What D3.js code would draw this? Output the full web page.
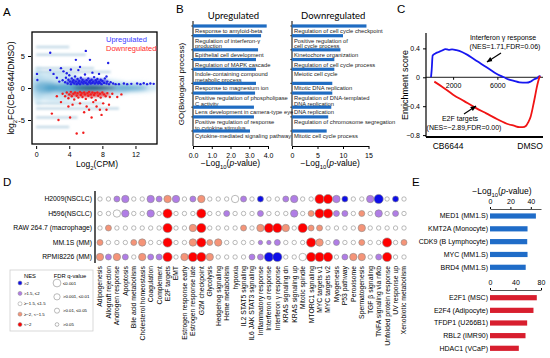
<!DOCTYPE html>
<html><head><meta charset="utf-8">
<script src="https://cdn.jsdelivr.net/npm/d3@7"></script>
<style>
body{margin:0;background:#fff}
svg{font-family:"Liberation Sans",Arial,sans-serif;display:block}
</style></head><body>
<svg id="fig" width="550" height="358"></svg>
<script>
// ---------- A: MA plot ----------
// smoothed density of all genes: [log2CPM, log2FC, sdX, sdY, weight]
var maCloudLight = [[2.5,0.2,3.6,2.4,0.6],[7,0,4.6,1.5,0.6],[12,0.1,3,0.8,0.55],[0.2,0.3,0.7,2.9,0.5]];
var maCloudMid = [[5,0,4.2,0.8,0.75],[10.5,0,3,0.5,0.65],[1.2,0.1,1.4,1.0,0.55]];
var maCloudCore = [[7,0,2.6,0.34,0.9],[7.2,0,1.4,0.22,0.95]];
var upDensity = [[6.2,1.0,2.6,0.5,0.7]];
var downDensity = [[6.3,-1.0,2.6,0.42,0.7]];
var maStreaks = [[0,7,3.1],[0,6,5.2],[0,10,-3.2],[0,5,-4.6],[0,4,6.4],[0,4,-6.1],[0,9,2.5],[0,8,-2.4]];
var upGenes = [[3.2,1.2],[3.5,0.9],[3.6,1.6],[3.8,0.7],[3.9,1.3],[4.0,2.0],[4.1,1.0],[4.2,0.6],[4.3,1.5],[4.4,0.9],[4.5,1.2],[4.6,0.7],[4.7,1.8],[4.8,1.0],[4.9,0.6],[5.0,1.4],[5.1,0.8],[5.2,1.1],[5.3,0.6],[5.4,1.6],[5.5,0.9],[5.6,1.3],[5.7,0.7],[5.8,1.0],[5.9,2.1],[6.0,0.8],[6.1,1.2],[6.2,0.6],[6.3,1.5],[6.4,0.9],[6.5,1.1],[6.6,0.7],[6.7,1.3],[6.8,0.8],[6.9,1.0],[7.0,1.7],[7.1,0.7],[7.2,1.2],[7.3,0.9],[7.4,1.4],[7.5,0.7],[7.6,1.0],[7.7,0.8],[7.8,1.3],[7.9,0.6],[8.0,1.1],[8.2,0.8],[8.3,1.5],[8.5,0.7],[8.6,1.0],[8.8,0.6],[9.0,0.9],[9.3,0.7],[9.6,0.6],[10.0,0.6],[10.6,0.7],[11.0,0.6],[11.5,0.65],[12.2,0.7],[12.6,0.6],[13.0,0.75],[13.4,0.6],[13.8,0.7],[14.2,0.65],
  [1.7,5.5],[6.0,5.8],[4.8,4.4],[6.5,4.4],[8.7,3.9],[0.1,2.2],[0.15,1.25],[1.7,2.8],[2.1,2.2],[3.0,3.1],[3.7,2.3],[5.1,2.8],[5.3,3.3],[8.5,1.8],[2.5,1.6],[2.8,1.0],[3.3,2.6],[6.8,2.4],[7.6,2.2],[4.2,2.9]];
var downGenes = [[3.2,-0.9],[3.5,-1.3],[3.7,-0.7],[3.9,-1.6],[4.0,-1.0],[4.2,-0.6],[4.3,-1.3],[4.5,-0.9],[4.6,-1.8],[4.7,-0.7],[4.9,-1.2],[5.0,-0.8],[5.1,-1.5],[5.3,-0.6],[5.4,-1.1],[5.5,-0.8],[5.6,-1.4],[5.8,-0.7],[5.9,-1.0],[6.0,-1.7],[6.2,-0.8],[6.3,-1.2],[6.4,-0.6],[6.6,-1.0],[6.7,-1.5],[6.8,-0.7],[7.0,-1.1],[7.1,-0.8],[7.2,-1.9],[7.4,-0.7],[7.5,-1.2],[7.7,-0.9],[7.8,-1.5],[8.0,-0.7],[8.2,-1.0],[8.4,-1.3],[8.6,-0.8],[8.9,-1.4],[9.2,-0.9],[9.8,-1.4],[10.3,-1.0],
  [1.9,-4.0],[3.9,-2.9],[4.1,-4.6],[5.3,-2.4],[6.1,-2.9],[6.4,-3.4],[6.7,-4.6],[7.3,-2.9],[7.7,-3.4],[8.1,-2.4],[8.5,-3.4],[7.9,-4.2],[4.9,-7.1],[5.7,-7.0],[2.7,-5.0],[3.0,-2.2],[4.4,-2.6],[5.8,-3.8],[6.9,-2.2],[8.8,-2.6],[2.5,-1.3]];
var maXTicks = [0,4,8,12];
var maYTicks = [-5,0,5];

// ---------- B: GO bars ----------
var upTerms = ["Response to amyloid-beta","Regulation of interferon-γ\nproduction","Epithelial cell development","Regulation of MAPK cascade","Indole-containing compound\nmetabolic process","Response to magnesium ion","Positive regulation of phospholipase\nC activity","Lens development in camera-type eye","Positive regulation of response\nto cytokine stimulus","Cytokine-mediated signaling pathway"];
var upP = [3.93,3.63,3.47,3.36,3.36,3.36,3.31,3.25,3.25,3.04];
var downTerms = ["Regulation of cell cycle checkpoint","Positive regulation of\ncell cycle process","Kinetochore organization","Regulation of cell cycle process","Meiotic cell cycle","Mitotic DNA replication","Regulation of DNA-templated\nDNA replication","DNA replication","Regulation of chromosome segregation","Mitotic cell cycle process"];
var downP = [14.6,10.0,9.5,8.3,8.3,7.9,7.9,7.7,7.1,6.8];
var upTicks = [0,1,2,3,4];
var downTicks = [0,5,10,15];

// ---------- C: GSEA running enrichment ----------
var ifngES = [[0,0],[60,0.1],[150,0.3],[400,0.33],[700,0.35],[1000,0.37],[1300,0.39],[1600,0.38],[1900,0.385],[2300,0.375],[2800,0.35],[3300,0.31],[3800,0.26],[4300,0.21],[4800,0.16],[5300,0.11],[5800,0.06],[6300,0.02],[6600,0],[7000,-0.03],[7500,-0.05],[8000,-0.07],[8600,-0.075],[9000,-0.06],[9300,-0.03],[9600,-0.01],[9750,0.01],[9900,0.02]];
var e2fES = [[300,-0.06],[1000,-0.13],[2000,-0.24],[3000,-0.33],[4000,-0.42],[5000,-0.5],[6000,-0.58],[7000,-0.65],[7500,-0.67],[8000,-0.69],[8300,-0.69],[8600,-0.67],[8800,-0.62],[9000,-0.55],[9200,-0.42],[9400,-0.27],[9550,-0.15],[9700,-0.05],[9850,0.02]];
var gseaYTicks = [0.4,0,-0.4,-0.8];
var gseaXTicks = [2000,6000];

// ---------- D: hallmark dot matrix ----------
var cellLines = ["H2009(NSCLC)","H596(NSCLC)","RAW 264.7 (macrophage)","MM.1S (MM)","RPMI8226 (MM)"];
var hallmarks = ["Adipogenesis","Allograft rejection","Androgen response","Apoptosis","Bile acid metabolism","Cholesterol homeostasis","Coagulation","Complement","E2F targets","EMT","Estrogen response early","Estrogen response late","G2M checkpoint","Glycolysis","Hedgehog signaling","Heme metabolism","hypoxia","IL2 STAT5 signaling","IL6 JAK STAT3 signaling","Inflammatory response","Interferon α response","Interferon γ response","KRAS signaling dn","KRAS signaling up","Mitotic spindle","MTORC1 signaling","MYC targets v1","MYC targets v2","Myogenesis","P53 pathway","Peroxisome","Spermatogenesis","TGF β signaling","TNFA signaling via nfkb","Unfolded protein response","UV response up","Xenobiotic metabolism"];
var nes = [
  [0.6,0.4,1.7,1.8,0.3,0.5,1.8,1.7,-1.8,1.8,0.4,1.7,-1.8,0.2,-0.3,0.1,1.2,1.6,0.5,2.1,0.8,0.9,1.6,1.9,0.3,-0.5,-2.3,-2.2,1.9,2.1,0.4,-0.6,1.8,2.3,0.7,2.1,0.2],
  [0.3,0.5,1.3,1.8,0.4,0.2,1.8,0.6,-2.5,-0.4,0.3,-0.8,-2.6,0.2,0.4,1.6,0.3,0.5,0.8,1.6,1.0,0.9,0.6,1.8,-0.5,-1.7,-2.6,-2.5,1.6,1.6,0.3,-1.7,0.5,1.8,-0.9,1.6,0.2],
  [0.2,-1.7,0.3,-0.5,0.4,0.6,-0.3,0.2,-2.4,0.5,-0.6,-1.8,-2.5,0.3,0.1,0.4,-0.8,-1.7,0.2,-1.8,-2.3,-2.4,-1.8,0.3,-2.2,-1.7,-1.8,-0.9,0.4,0.2,0.3,-1.7,0.5,0.3,-0.4,0.6,0.2],
  [-1.7,0.3,0.2,0.4,-1.7,-1.8,0.3,0.5,-2.5,0.2,-0.8,-1.9,-2.5,-1.7,-1.8,0.3,0.4,0.2,0.5,1.6,1.6,1.7,0.4,0.3,0.6,-2.3,-1.8,-0.5,1.6,0.4,0.3,-1.7,0.2,0.4,-2.2,0.3,-1.7],
  [-1.8,1.7,-1.9,1.7,0.3,-1.8,1.6,1.7,-2.6,0.4,-1.9,-2.3,-2.5,-1.8,0.2,0.3,0.5,0.4,1.7,1.6,2.4,2.4,0.3,0.2,-1.2,-2.5,-2.6,-2.5,0.4,1.6,-1.8,-1.9,0.3,1.7,-2.4,0.4,0.6]];
var fdr = [
  [0.3,0.4,0.03,0.005,0.5,0.3,0.005,0.03,0.005,0.005,0.4,0.03,0.005,0.6,0.5,0.7,0.005,0.03,0.3,0.03,0.2,0.2,0.03,0.005,0.5,0.3,0.0005,0.0005,0.005,0.03,0.4,0.3,0.005,0.0005,0.2,0.03,0.6],
  [0.4,0.3,0.005,0.005,0.4,0.5,0.005,0.3,0.0005,0.4,0.5,0.2,0.0005,0.5,0.4,0.03,0.5,0.3,0.2,0.03,0.15,0.2,0.3,0.005,0.3,0.03,0.0005,0.0005,0.03,0.03,0.4,0.03,0.3,0.005,0.2,0.03,0.5],
  [0.4,0.03,0.5,0.3,0.4,0.3,0.5,0.4,0.0005,0.3,0.3,0.005,0.0005,0.4,0.6,0.5,0.3,0.03,0.4,0.005,0.0005,0.0005,0.005,0.4,0.0005,0.03,0.03,0.2,0.4,0.5,0.4,0.005,0.3,0.4,0.3,0.5,0.4],
  [0.03,0.4,0.5,0.3,0.03,0.005,0.4,0.3,0.0005,0.5,0.2,0.005,0.0005,0.03,0.005,0.4,0.3,0.5,0.4,0.2,0.2,0.03,0.3,0.4,0.3,0.0005,0.005,0.2,0.03,0.4,0.3,0.03,0.5,0.3,0.0005,0.4,0.03],
  [0.005,0.03,0.005,0.03,0.4,0.005,0.03,0.03,0.0005,0.3,0.005,0.0005,0.0005,0.005,0.4,0.5,0.3,0.4,0.03,0.03,0.0005,0.0005,0.4,0.3,0.005,0.0005,0.0005,0.0005,0.3,0.03,0.005,0.005,0.4,0.03,0.0005,0.5,0.4]];
var nesLegend = [">2",">1.5, ≤2","≥−1.5, ≤1.5","≥−2, <−1.5","<−2"];
var nesLegendVal = [2.5,1.7,0,-1.7,-2.5];
var fdrLegend = ["≤0.001",">0.001, ≤0.01",">0.01, ≤0.05",">0.05"];
var fdrLegendVal = [0.0005,0.005,0.03,0.2];

// ---------- E: ChIP enrichment ----------
var coactFactors = ["MED1 (MM1.S)","KMT2A (Monocyte)","CDK9 (B Lymphocyte)","MYC (MM1.S)","BRD4 (MM1.S)"];
var coactP = [45,36.8,36.5,36.8,35];
var e2fFactors = ["E2F1 (MSC)","E2F4 (Adipocyte)","TFDP1 (U266B1)","RBL2 (IMR90)","HDAC1 (VCaP)"];
var e2fP = [73.4,68.2,58.3,55.7,45.2];

var svg = d3.select('#fig');
var defs = svg.append('defs');
function addBlur(id, sd){
	defs.append('filter').attr('id',id).attr('x','-50%').attr('y','-50%').attr('width','200%').attr('height','200%')
		.append('feGaussianBlur').attr('stdDeviation',sd);
}
addBlur('blur2', 2);
addBlur('blur1', 1.2);
defs.append('clipPath').attr('id','clipA').append('rect').attr('x',33).attr('y',33).attr('width',123).attr('height',110);
defs.append('marker').attr('id','arrow').attr('viewBox','0 0 10 10').attr('refX',9).attr('refY',5)
	.attr('markerWidth',5).attr('markerHeight',5).attr('orient','auto')
	.append('path').attr('d','M0,1 L10,5 L0,9 z').attr('fill','#000');

// helper: text with subscript / italic pieces
function richText(sel, parts){
	parts.forEach(function(p){
		var t = sel.append('tspan').text(p[0]);
		if (p[1] == 'sub') t.attr('baseline-shift','sub').attr('font-size','70%');
		if (p[1] == 'it') t.attr('font-style','italic');
	});
	return sel;
}
function panelLetter(txt, x, y){
	svg.append('text').attr('x',x).attr('y',y).attr('font-size',11.5).text(txt);
}

// ================= A =================
panelLetter('A', 3, 16);
var xA = d3.scaleLinear().domain([-0.5,14.6]).range([32,157]);
var yA = d3.scaleLinear().domain([-8.75,8.75]).range([144,32]);
var gA = svg.append('g');
var cloud = gA.append('g').attr('clip-path','url(#clipA)');
var streakG = cloud.append('g').attr('filter','url(#blur1)');
maStreaks.forEach(function(s){
	streakG.append('line').attr('x1',xA(s[0])).attr('x2',xA(s[1])).attr('y1',yA(s[2])).attr('y2',yA(s[2]))
		.attr('stroke','#bcd5e4').attr('stroke-width',2.4).attr('opacity',0.85);
});
function drawDensity(parent, list, color){
	list.forEach(function(c){
		parent.append('ellipse').attr('cx',xA(c[0])).attr('cy',yA(c[1]))
			.attr('rx',xA(c[0]+c[2])-xA(c[0])).attr('ry',yA(c[1])-yA(c[1]+c[3]))
			.attr('fill',color).attr('opacity',c[4]);
	});
}
var blurG = cloud.append('g').attr('filter','url(#blur2)');
drawDensity(blurG, maCloudLight,'#a6d4ea');
drawDensity(blurG, maCloudMid,'#3f98c4');
drawDensity(blurG, maCloudCore,'#0f3e5d');
var clusterG = cloud.append('g').attr('filter','url(#blur1)');
drawDensity(clusterG, upDensity, '#2525e8');
drawDensity(clusterG, downDensity, '#f41e1e');
cloud.selectAll('.up').data(upGenes).enter().append('circle')
	.attr('cx',d=>xA(d[0])).attr('cy',d=>yA(d[1])).attr('r',1.2).attr('fill','#2121e6');
cloud.selectAll('.dn').data(downGenes).enter().append('circle')
	.attr('cx',d=>xA(d[0])).attr('cy',d=>yA(d[1])).attr('r',1.2).attr('fill','#f21d1d');
gA.append('rect').attr('x',32).attr('y',32).attr('width',125).attr('height',112)
	.attr('fill','none').attr('stroke','#000').attr('stroke-width',1.3);
gA.append('g').attr('transform','translate(0,146)')
	.call(d3.axisBottom(xA).tickValues(maXTicks).tickSize(3).tickFormat(d3.format('d')))
	.call(g=>{g.select('.domain').remove(); g.selectAll('text').attr('font-size',7).attr('font-family',null);});
gA.append('g').attr('transform','translate(31,0)')
	.call(d3.axisLeft(yA).tickValues(maYTicks).tickSize(3).tickFormat(d=>d<0?'-'+Math.abs(d):d))
	.call(g=>{g.select('.domain').remove(); g.selectAll('text').attr('font-size',7.5).attr('font-family',null);});
richText(gA.append('text').attr('x',97).attr('y',167).attr('text-anchor','middle').attr('font-size',8.5),
	[['Log',''],['2','sub'],['(CPM)','']]);
richText(gA.append('text').attr('transform','translate(14,88) rotate(-90)').attr('text-anchor','middle').attr('font-size',8.5),
	[['log',''],['2','sub'],['FC(CB-6644/DMSO)','']]);
gA.append('text').attr('x',106).attr('y',42).attr('font-size',7.5).attr('fill','#3b3bff').text('Upregulated');
gA.append('text').attr('x',106).attr('y',51).attr('font-size',7.5).attr('fill','#ff2a2a').text('Downregulated');

// ================= B =================
panelLetter('B', 176, 13);
// rows with two-line labels take more room
var rowLines = upTerms.map((t,i)=>Math.max(t.split('\n').length, downTerms[i].split('\n').length));
var rowPos = [0];
rowLines.slice(0,-1).forEach(function(n,i){ rowPos.push(rowPos[i] + (n>1?1.45:1)); });
var yB = d3.scaleLinear().domain([0, rowPos[rowPos.length-1]]).range([26,131]);
function goPanel(x0, x1, domainMax, ticks, terms, vals, title){
	var x = d3.scaleLinear().domain([0,domainMax]).range([x0,x1]);
	var g = svg.append('g');
	g.append('text').attr('x',(x0+x1)/2+3).attr('y',19).attr('text-anchor','middle')
		.attr('font-size',9.5).attr('font-family','Lato, "Open Sans", sans-serif').text(title);
	g.append('line').attr('x1',x0).attr('x2',x0).attr('y1',21).attr('y2',146).attr('stroke','#000').attr('stroke-width',1);
	g.append('g').attr('transform','translate(0,146)')
		.call(d3.axisBottom(x).tickValues(ticks).tickSize(3).tickSizeOuter(0))
		.call(g=>g.selectAll('text').attr('font-size',7).attr('font-family',null).attr('dy','0.9em'));
	terms.forEach(function(t,i){
		var y = yB(rowPos[i]);
		g.append('rect').attr('x',x0).attr('y',y-1.6).attr('width',x(vals[i])-x0).attr('height',3.2).attr('fill','#1f6cc2');
		g.append('line').attr('x1',x0-2).attr('x2',x0).attr('y1',y).attr('y2',y).attr('stroke','#000').attr('stroke-width',0.6);
		var tx = g.append('text').attr('x',x0+2).attr('y',y+7).attr('font-size',5.8).attr('fill','#222');
		t.split('\n').forEach(function(line,k){
			tx.append('tspan').attr('x',x0+2).attr('dy',k?5.6:0).text(line);
		});
	});
	richText(g.append('text').attr('x',(x0+x1)/2).attr('y',166).attr('text-anchor','middle').attr('font-size',8.5),
		[['−Log',''],['10','sub'],['(',''],['p','it'],['-value)','']]);
}
goPanel(193, 268, 4, upTicks, upTerms, upP, 'Upregulated');
goPanel(292, 368.5, 15, downTicks, downTerms, downP, 'Downregulated');
svg.append('text').attr('transform','translate(184,84) rotate(-90)').attr('text-anchor','middle')
	.attr('font-size',8).text('GO(Biological process)');

// ================= C =================
panelLetter('C', 397, 13);
var xC = d3.scaleLinear().domain([0,10000]).range([431,541.6]);
var yC = d3.scaleLinear().domain([-0.8,0.61]).range([135.1,33.2]);
var gC = svg.append('g');
gC.append('line').attr('x1',426).attr('x2',426).attr('y1',33).attr('y2',137).attr('stroke','#000').attr('stroke-width',1.2);
gC.append('g').attr('transform','translate(426,0)')
	.call(d3.axisLeft(yC).tickValues(gseaYTicks).tickSize(3).tickFormat(d=>d==0?'0':d3.format('.1f')(d).replace('-','−')))
	.call(g=>{g.select('.domain').remove(); g.selectAll('text').attr('font-size',7).attr('font-family',null);});
gC.append('line').attr('x1',426).attr('x2',543).attr('y1',yC(0)).attr('y2',yC(0)).attr('stroke','#000').attr('stroke-width',0.9);
gC.append('g').attr('transform','translate(0,'+yC(0)+')')
	.call(d3.axisBottom(xC).tickValues(gseaXTicks).tickSize(2.5).tickFormat(d3.format('d')))
	.call(g=>{g.select('.domain').remove(); g.selectAll('text').attr('font-size',7).attr('font-family',null);});
gC.append('line').attr('x1',426).attr('x2',543).attr('y1',137).attr('y2',137).attr('stroke','#000').attr('stroke-width',2);
var lineC = d3.line().x(d=>xC(d[0])).y(d=>yC(d[1])).curve(d3.curveMonotoneX);
gC.append('path').attr('d',lineC(ifngES)).attr('fill','none').attr('stroke','#1717f0').attr('stroke-width',1.8);
gC.append('path').attr('d',lineC(e2fES)).attr('fill','none').attr('stroke','#f01414').attr('stroke-width',1.8);
gC.append('text').attr('x',503).attr('y',40).attr('text-anchor','middle').attr('font-size',7).text('Interferon γ response');
gC.append('text').attr('x',505).attr('y',49).attr('text-anchor','middle').attr('font-size',7).text('(NES=1.71,FDR=0.06)');
gC.append('line').attr('x1',501).attr('y1',53).attr('x2',487).attr('y2',62).attr('stroke','#000').attr('stroke-width',1.2).attr('marker-end','url(#arrow)');
gC.append('text').attr('x',460).attr('y',121).attr('text-anchor','middle').attr('font-size',7).text('E2F targets');
gC.append('text').attr('x',464).attr('y',130).attr('text-anchor','middle').attr('font-size',7).text('(NES=−2.89,FDR=0.00)');
gC.append('line').attr('x1',464).attr('y1',114).attr('x2',476).attr('y2',106).attr('stroke','#000').attr('stroke-width',1.2).attr('marker-end','url(#arrow)');
gC.append('text').attr('transform','translate(408,85) rotate(-90)').attr('text-anchor','middle').attr('font-size',9).text('Enrichment score');
gC.append('text').attr('x',448).attr('y',149).attr('text-anchor','middle').attr('font-size',8.5).text('CB6644');
gC.append('text').attr('x',530).attr('y',149).attr('text-anchor','middle').attr('font-size',8.5).text('DMSO');

// ================= D =================
panelLetter('D', 3, 186);
var xD = d3.scalePoint().domain(hallmarks).range([100,404]);
var yD = d3.scalePoint().domain(cellLines).range([199,257]);
function nesColor(v){
	if (v > 2) return '#0d0de8';
	if (v > 1.5) return '#b07de6';
	if (v >= -1.5) return '#ffffff';
	if (v >= -2) return '#f59478';
	return '#ff0000';
}
function fdrRadius(q){
	if (q <= 0.001) return 4.6;
	if (q <= 0.01) return 3.7;
	if (q <= 0.05) return 3.0;
	return 2.2;
}
var gD = svg.append('g');
gD.append('line').attr('x1',95).attr('x2',95).attr('y1',191).attr('y2',263).attr('stroke','#000').attr('stroke-width',1.3);
cellLines.forEach(function(c,r){
	gD.append('text').attr('x',92).attr('y',yD(c)).attr('dy','0.35em').attr('text-anchor','end').attr('font-size',6.8).text(c);
	gD.selectAll('.r'+r).data(hallmarks).enter().append('circle')
		.attr('cx',h=>xD(h)).attr('cy',yD(c))
		.attr('r',(h,i)=>fdrRadius(fdr[r][i]))
		.attr('fill',(h,i)=>nesColor(nes[r][i]))
		.attr('stroke','#8c8c8c').attr('stroke-width',0.6);
});
gD.selectAll('.col').data(hallmarks).enter().append('text')
	.attr('transform',h=>'translate('+xD(h)+',266) rotate(-90)')
	.attr('dy','0.35em').attr('text-anchor','end').attr('font-size',6.8).text(h=>h);
// legend
var lg = gD.append('g');
lg.append('rect').attr('x',10).attr('y',270).attr('width',83).attr('height',61).attr('fill','#fff').attr('stroke','#cfcfcf').attr('stroke-width',0.8);
lg.append('text').attr('x',30).attr('y',278).attr('text-anchor','middle').attr('font-size',5.8).text('NES');
lg.append('text').attr('x',70).attr('y',278).attr('text-anchor','middle').attr('font-size',5.8).text('FDR q-value');
var nesRow = d3.scalePoint().domain(nesLegend).range([283,324.5]);
nesLegend.forEach(function(t,i){
	lg.append('circle').attr('cx',20).attr('cy',nesRow(t)).attr('r',2).attr('fill',nesColor(nesLegendVal[i])).attr('stroke','#8c8c8c').attr('stroke-width',0.5);
	lg.append('text').attr('x',24).attr('y',nesRow(t)).attr('dy','0.35em').attr('font-size',4.3).text(t);
});
var fdrRow = d3.scalePoint().domain(fdrLegend).range([283,324.5]);
fdrLegend.forEach(function(t,i){
	lg.append('circle').attr('cx',57).attr('cy',fdrRow(t)).attr('r',fdrRadius(fdrLegendVal[i])*0.85).attr('fill','#fff').attr('stroke','#8c8c8c').attr('stroke-width',0.6);
	lg.append('text').attr('x',63).attr('y',fdrRow(t)).attr('dy','0.35em').attr('font-size',4.3).text(t);
});

// ================= E =================
panelLetter('E', 412, 186);
var gE = svg.append('g');
richText(gE.append('text').attr('x',502).attr('y',194).attr('text-anchor','middle').attr('font-size',8.5),
	[['−Log',''],['10','sub'],['(',''],['p','it'],['-value)','']]);
function factorBars(factors, vals, maxV, axisY, ticks, rangeY, color){
	var x = d3.scaleLinear().domain([0,maxV]).range([490,541]);
	var y = d3.scalePoint().domain(factors).range(rangeY);
	gE.append('g').attr('transform','translate(0,'+axisY+')')
		.call(d3.axisTop(x).tickValues(ticks).tickSize(2).tickSizeOuter(0))
		.call(g=>{g.select('.domain').attr('stroke','#555'); g.selectAll('text').attr('font-size',7).attr('font-family',null);});
	factors.forEach(function(f,i){
		gE.append('rect').attr('x',x(0)).attr('y',y(f)-2.6).attr('width',x(vals[i])-x(0)).attr('height',5.2).attr('fill',color);
		gE.append('text').attr('x',488).attr('y',y(f)).attr('dy','0.35em').attr('text-anchor','end').attr('font-size',7).text(f);
	});
}
factorBars(coactFactors, coactP, 50, 209, [0,20,40], [216,267.3], '#1f6cc8');
factorBars(e2fFactors, e2fP, 80, 290, [0,40,80], [297.7,348.3], '#d81e2e');
</script></body></html>
